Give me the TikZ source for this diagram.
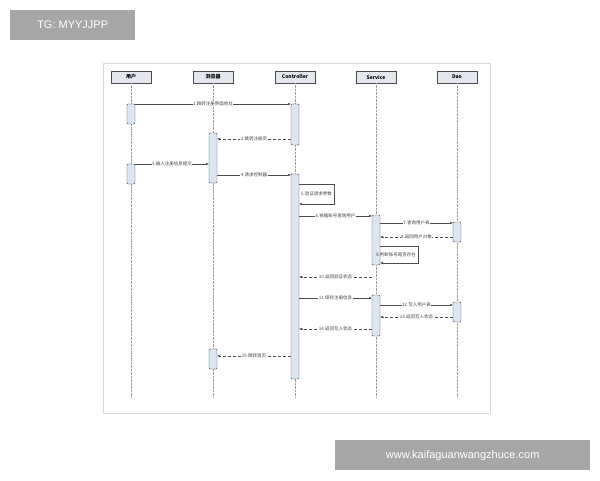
\documentclass[tikz,border=0pt]{standalone}
\usepackage{fontspec}
\setmainfont{Liberation Sans}
\newfontfamily\cjk{Noto Sans CJK SC}
\usetikzlibrary{arrows.meta}
\definecolor{actfill}{HTML}{DCE6F2}
\definecolor{hdrfill}{HTML}{E4E8EE}
\definecolor{tag}{HTML}{A6A6A6}
\tikzset{
 x=1pt,y=-1pt,
 hdr/.style={draw=black!70,fill=hdrfill,minimum width=40pt,minimum height=12pt,inner sep=0pt,font=\cjk\fontsize{5}{5}\selectfont\bfseries},
 life/.style={draw=black!40,densely dotted},
 msg/.style={draw=black!70,-{Latex[length=3pt,width=2.4pt]},line width=0.4pt},
 ret/.style={msg,densely dashed},
 lbl/.style={fill=white,inner sep=0.5pt,font=\cjk\fontsize{4.5}{5}\selectfont,text=black!75},
 slbl/.style={lbl,fill=none,anchor=east,inner sep=2pt},
}
\newcommand{\actbox}[4]{\node[draw=black!70,fill=actfill,rounded corners=1pt,minimum width=8pt,minimum height=#4-#3,inner sep=0pt] (#1) at (#2,{(#3+#4)/2}) {};}
\begin{document}
\begin{tikzpicture}
\useasboundingbox (0,0) rectangle (600,480);
\fill[white] (0,0) rectangle (600,480);
\node[fill=tag,text=white,minimum width=125pt,minimum height=30pt,font=\fontsize{11}{12}\selectfont,anchor=north west] (tg) at (10,10) {TG: MYYJJPP};
\node[fill=tag,text=white,minimum width=255pt,minimum height=30pt,font=\fontsize{11}{12}\selectfont,anchor=north west] (url) at (335,440) {www.kaifaguanwangzhuce.com};
\draw[black!15] (103,63) rectangle (490,413);
\foreach \n/\x/\t in {u/131/用户,b/213/浏览器,c/295/Controller,s/376/Service,d/457/Dao}{
  \node[hdr] (h\n) at (\x,77) {\t};
  \coordinate (e\n) at (\x,397);
  \draw[life] (h\n) -- (e\n);
}
\actbox{u1}{131}{104}{124}
\actbox{u2}{131}{164}{184}
\actbox{b1}{213}{133}{183}
\actbox{b2}{213}{349}{369}
\actbox{c1}{295}{104}{145}
\actbox{c2}{295}{174}{379}
\actbox{s1}{376}{215}{265}
\actbox{s2}{376}{295}{336}
\actbox{d1}{457}{222}{242}
\actbox{d2}{457}{302}{322}
% messages
\draw[msg] (135,104) -- node[lbl]{1.跳转注册界面地址} (291,104);
\draw[ret] (291,139) -- node[lbl]{2.跳转注册页} (217,139);
\draw[msg] (135,164) -- node[lbl]{3.输入注册信息提交} (209,164);
\draw[msg] (217,175) -- node[lbl]{4.请求控制器} (291,175);
\draw[msg] (299,184) -- (334,184) -- node[slbl]{5.验证请求参数} (334,204) -- (299,204);
\draw[msg] (299,216) -- node[lbl]{6.依据账号查询用户} (372,216);
\draw[msg] (380,223) -- node[lbl]{7.查询用户表} (453,223);
\draw[ret] (453,237) -- node[lbl]{8.返回用户对象} (380,237);
\draw[msg] (380,246) -- (418,246) -- node[slbl]{9.判断账号是否存在} (418,263) -- (380,263);
\draw[ret] (372,277) -- node[lbl]{10.返回验证状态} (299,277);
\draw[msg] (299,298) -- node[lbl]{11.保存注册信息} (372,298);
\draw[msg] (380,305) -- node[lbl]{12.写入用户表} (453,305);
\draw[ret] (453,317) -- node[lbl]{13.返回写入状态} (380,317);
\draw[ret] (372,329) -- node[lbl]{14.返回写入状态} (299,329);
\draw[ret] (291,356) -- node[lbl]{15.跳转首页} (217,356);
\end{tikzpicture}
\end{document}
